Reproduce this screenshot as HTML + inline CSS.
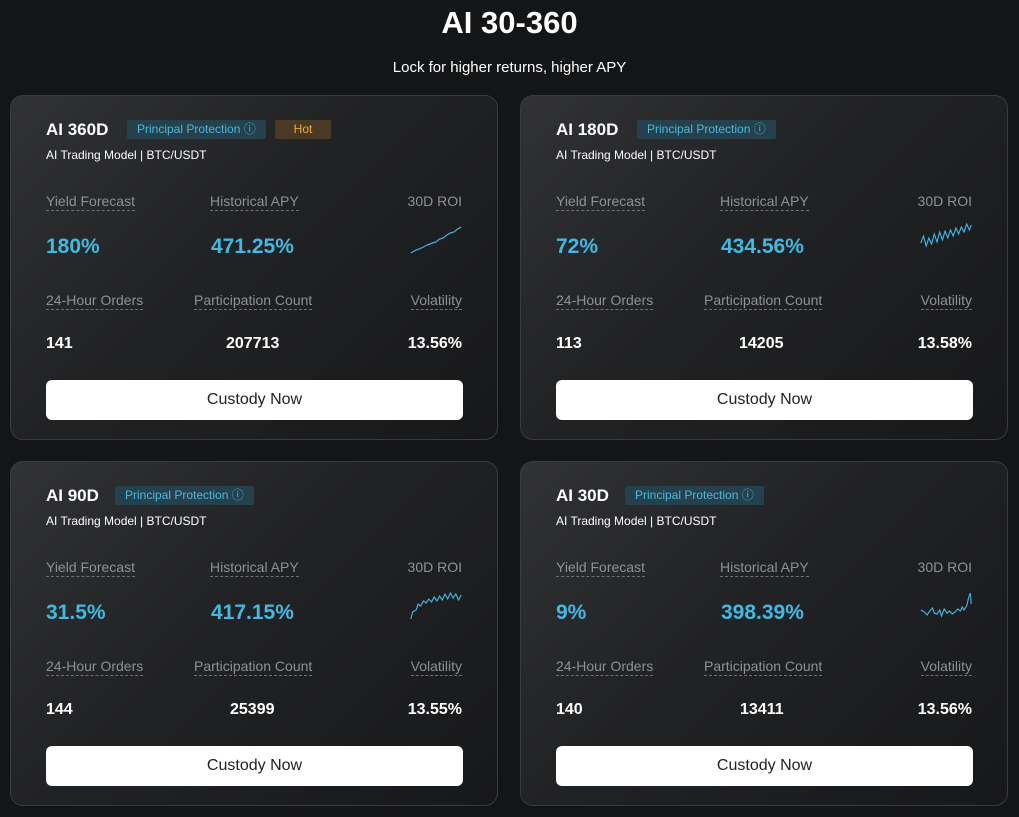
<!DOCTYPE html>
<html><head><meta charset="utf-8"><style>
*{margin:0;padding:0;box-sizing:border-box}
body{width:1019px;height:817px;background:#141517;font-family:"Liberation Sans",sans-serif;color:#fff;position:relative;overflow:hidden}
.h1{position:absolute;top:5px;left:0;width:1019px;text-align:center;font-size:31px;font-weight:bold}
.sub{position:absolute;top:59px;left:0;width:1019px;text-align:center;font-size:15px}
.card{position:absolute;width:488px;height:345px;border-radius:13px;border:1px solid #3a3b3e;background:linear-gradient(135deg,#313235 0%,#222325 40%,#17181a 100%)}
.a{position:absolute;white-space:nowrap}
.t{left:35px;top:24px;font-size:17px;font-weight:bold}
.bd{top:24px;height:19px;font-size:12px;line-height:19px;padding:0 10px;border-radius:2px}
.pp{background:#24414d;color:#4bb8dc}
.hot{background:#4a3a25;color:#f0a93a;width:56px;text-align:center;padding:0}
.st{left:35px;top:52px;font-size:12px}
.lb{font-size:14px;color:#8c9198;border-bottom:1px dashed #6b7076;padding-bottom:1px}
.l1{top:97px}.l2{top:196px}
.v{top:139px;font-size:21px;font-weight:bold;color:#41b9e2}
.w{top:239px;font-size:16px;font-weight:bold}
.btn{left:35px;top:284px;width:417px;height:40px;background:#fff;border-radius:6px;color:#222;font-size:16px;text-align:center;line-height:40px}
svg{position:absolute;left:398px;top:122px}
</style></head><body>
<div class="h1">AI 30-360</div>
<div class="sub">Lock for higher returns, higher APY</div>

<div class="card" style="left:10px;top:95px">
<div class="a t">AI 360D</div><div class="a bd pp" style="left:116px">Principal Protection ⓘ</div><div class="a bd hot" style="left:264px">Hot</div>
<div class="a st">AI Trading Model | BTC/USDT</div>
<div class="a lb l1" style="left:35px">Yield Forecast</div><div class="a lb l1" style="left:199px">Historical APY</div><div class="a lb l1" style="right:35px;border:0">30D ROI</div>
<div class="a v" style="left:35px">180%</div><div class="a v" style="left:200px">471.25%</div>
<svg width="54" height="40" viewBox="0 0 60 40" preserveAspectRatio="none"><polyline fill="none" stroke="#41b9e2" stroke-width="1.2" points="2,35 8,32 14,30 20,27 26,25 30,24 34,21 38,20 42,17 46,15 50,14 54,11 58,9"/></svg>
<div class="a lb l2" style="left:35px">24-Hour Orders</div><div class="a lb l2" style="left:183px">Participation Count</div><div class="a lb l2" style="right:35px">Volatility</div>
<div class="a w" style="left:35px">141</div><div class="a w" style="left:215px">207713</div><div class="a w" style="right:35px">13.56%</div>
<div class="a btn">Custody Now</div></div>

<div class="card" style="left:520px;top:95px">
<div class="a t">AI 180D</div><div class="a bd pp" style="left:116px">Principal Protection ⓘ</div>
<div class="a st">AI Trading Model | BTC/USDT</div>
<div class="a lb l1" style="left:35px">Yield Forecast</div><div class="a lb l1" style="left:199px">Historical APY</div><div class="a lb l1" style="right:35px;border:0">30D ROI</div>
<div class="a v" style="left:35px">72%</div><div class="a v" style="left:200px">434.56%</div>
<svg width="54" height="40" viewBox="0 0 60 40" preserveAspectRatio="none"><polyline fill="none" stroke="#41b9e2" stroke-width="1.2" points="2,25 5,18 8,28 11,20 14,26 17,16 20,24 23,14 26,22 29,13 32,20 35,12 38,18 41,10 44,16 47,9 50,14 53,6 56,12 58,7"/></svg>
<div class="a lb l2" style="left:35px">24-Hour Orders</div><div class="a lb l2" style="left:183px">Participation Count</div><div class="a lb l2" style="right:35px">Volatility</div>
<div class="a w" style="left:35px">113</div><div class="a w" style="left:218px">14205</div><div class="a w" style="right:35px">13.58%</div>
<div class="a btn">Custody Now</div></div>

<div class="card" style="left:10px;top:461px">
<div class="a t">AI 90D</div><div class="a bd pp" style="left:104px">Principal Protection ⓘ</div>
<div class="a st">AI Trading Model | BTC/USDT</div>
<div class="a lb l1" style="left:35px">Yield Forecast</div><div class="a lb l1" style="left:199px">Historical APY</div><div class="a lb l1" style="right:35px;border:0">30D ROI</div>
<div class="a v" style="left:35px">31.5%</div><div class="a v" style="left:200px">417.15%</div>
<svg width="54" height="40" viewBox="0 0 60 40" preserveAspectRatio="none"><polyline fill="none" stroke="#41b9e2" stroke-width="1.2" points="2,35 4,28 8,26 10,20 13,22 16,17 19,19 22,15 25,18 28,13 31,17 34,12 37,16 40,10 43,15 46,9 49,14 52,10 55,16 58,11"/></svg>
<div class="a lb l2" style="left:35px">24-Hour Orders</div><div class="a lb l2" style="left:183px">Participation Count</div><div class="a lb l2" style="right:35px">Volatility</div>
<div class="a w" style="left:35px">144</div><div class="a w" style="left:219px">25399</div><div class="a w" style="right:35px">13.55%</div>
<div class="a btn">Custody Now</div></div>

<div class="card" style="left:520px;top:461px">
<div class="a t">AI 30D</div><div class="a bd pp" style="left:104px">Principal Protection ⓘ</div>
<div class="a st">AI Trading Model | BTC/USDT</div>
<div class="a lb l1" style="left:35px">Yield Forecast</div><div class="a lb l1" style="left:199px">Historical APY</div><div class="a lb l1" style="right:35px;border:0">30D ROI</div>
<div class="a v" style="left:35px">9%</div><div class="a v" style="left:200px">398.39%</div>
<svg width="54" height="40" viewBox="0 0 60 40" preserveAspectRatio="none"><polyline fill="none" stroke="#41b9e2" stroke-width="1.2" points="2,26 6,28 9,31 12,27 15,24 17,29 20,30 23,26 25,32 28,25 31,29 34,27 37,30 40,28 43,25 46,27 48,23 50,26 53,22 55,14 57,9 58,20"/></svg>
<div class="a lb l2" style="left:35px">24-Hour Orders</div><div class="a lb l2" style="left:183px">Participation Count</div><div class="a lb l2" style="right:35px">Volatility</div>
<div class="a w" style="left:35px">140</div><div class="a w" style="left:219px">13411</div><div class="a w" style="right:35px">13.56%</div>
<div class="a btn">Custody Now</div></div>
</body></html>
